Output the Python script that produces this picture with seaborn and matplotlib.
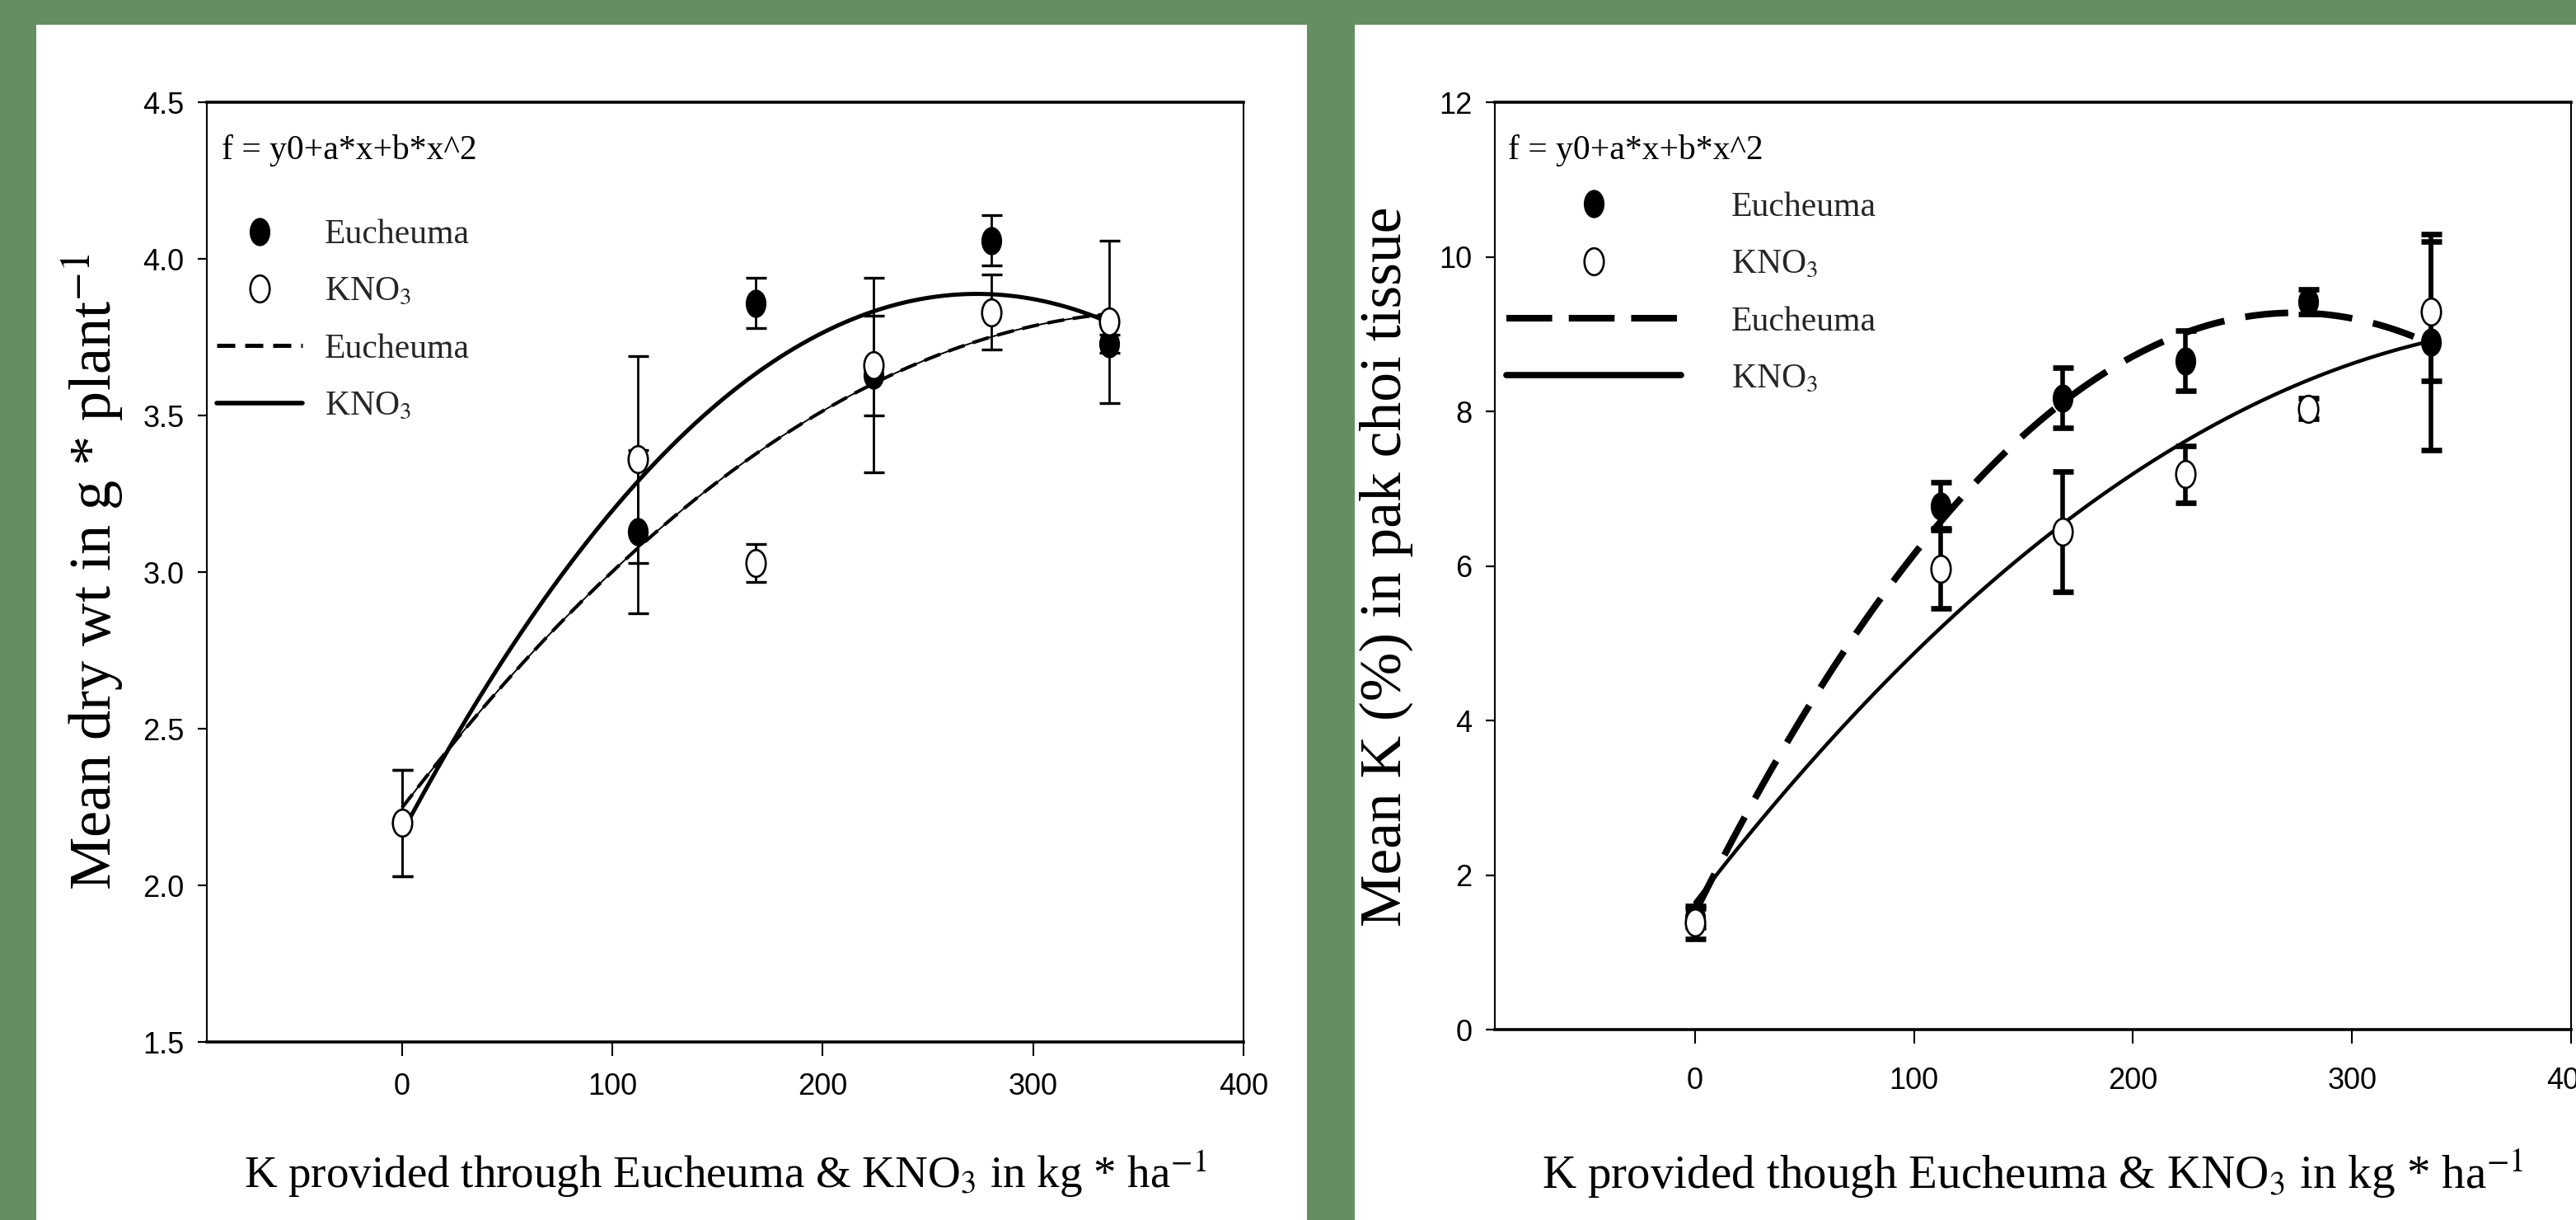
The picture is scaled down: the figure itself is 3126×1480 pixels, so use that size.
import numpy as np
import pandas as pd
import matplotlib
matplotlib.use("Agg")
import matplotlib.pyplot as plt
from matplotlib.path import Path
from matplotlib.lines import Line2D
from matplotlib.patches import Rectangle
import seaborn as sns

# ---------------- data ----------------
k_rate = [0, 112, 168, 224, 280, 336]          # K provided, kg/ha

# left panel: mean dry weight (g / plant)
dry_euch = [2.20, 3.13, 3.86, 3.63, 4.06, 3.73]
dry_euch_err = [0.17, 0.26, 0.08, 0.31, 0.08, 0.03]
dry_kno3 = [2.20, 3.36, 3.03, 3.66, 3.83, 3.80]
dry_kno3_err = [0.17, 0.33, 0.06, 0.16, 0.12, 0.26]

# right panel: mean K (%) in pak choi tissue
kp_euch = [1.45, 6.78, 8.18, 8.66, 9.42, 8.90]
kp_euch_err = [0.12, 0.31, 0.39, 0.39, 0.16, 1.40]
kp_kno3 = [1.39, 5.97, 6.45, 7.19, 8.04, 9.30]
kp_kno3_err = [0.21, 0.52, 0.78, 0.37, 0.13, 0.90]

x_ticks = [0, 100, 200, 300, 400]
left_yticks = [1.5, 2.0, 2.5, 3.0, 3.5, 4.0, 4.5]
right_yticks = [0, 2, 4, 6, 8, 10, 12]

fit_text = "f = y0+a*x+b*x^2"
legend_labels = ["Eucheuma", "KNO$_3$", "Eucheuma", "KNO$_3$"]
left_ylabel = "Mean dry wt in g * plant$^{-1}$"
right_ylabel = "Mean K (%) in pak choi tissue"
left_xlabel = "K provided through Eucheuma & KNO$_3$ in kg * ha$^{-1}$"
right_xlabel = "K provided though Eucheuma & KNO$_3$ in kg * ha$^{-1}$"

left_df = pd.DataFrame({"k": k_rate, "euch": dry_euch, "kno3": dry_kno3})
right_df = pd.DataFrame({"k": k_rate, "euch": kp_euch, "kno3": kp_kno3})

# ---------------- style ----------------
sns.set_theme(style="white")
plt.rcParams["font.family"] = ["Liberation Serif", "DejaVu Serif"]
plt.rcParams["mathtext.fontset"] = "stix"

TICK_FAMILY, TICK_SIZE = "Liberation Sans", 26

GREEN = "#658e62"
W, H = 3126, 1480
fig = plt.figure(figsize=(W / 100, H / 100), dpi=100, facecolor=GREEN)
fig.patches.extend([
    Rectangle((44 / W, 0), (1586 - 44) / W, (H - 30) / H, transform=fig.transFigure,
              facecolor="white", edgecolor="none", zorder=-5),
    Rectangle((1644 / W, 0), (W - 1644) / W, (H - 30) / H, transform=fig.transFigure,
              facecolor="white", edgecolor="none", zorder=-5),
])

axL = fig.add_axes([251 / W, (H - 1264) / H, (1509 - 251) / W, (1264 - 124.4) / H])
axR = fig.add_axes([1814 / W, (H - 1249.4) / H, (3120 - 1814) / W, (1249.4 - 124.4) / H])

circ = Path.unit_circle()
ell = Path(circ.vertices * np.array([0.72, 1.0]), circ.codes)
MS = 23.5  # marker height in points


def draw_points(ax, y_f, e_f, y_o, e_o, elw, capthick):
    ax.errorbar(k_rate, y_f, yerr=e_f, fmt="none", ecolor="black", elinewidth=elw,
                capsize=9, capthick=capthick, zorder=3)
    ax.errorbar(k_rate, y_o, yerr=e_o, fmt="none", ecolor="black", elinewidth=elw,
                capsize=9, capthick=capthick, zorder=3)
    sns.scatterplot(x=k_rate, y=y_f, marker=ell, s=MS ** 2, color="black",
                    edgecolor="black", linewidth=1.2, ax=ax, zorder=4)
    sns.scatterplot(x=k_rate, y=y_o, marker=ell, s=MS ** 2, color="white",
                    edgecolor="black", linewidth=1.9, ax=ax, zorder=5)


# ---------------- left panel ----------------
sns.regplot(data=left_df, x="k", y="euch", order=2, ci=None, scatter=False, truncate=True,
            color="black", ax=axL, line_kws=dict(lw=3.6, ls="-", zorder=2))
sns.regplot(data=left_df, x="k", y="kno3", order=2, ci=None, scatter=False, truncate=True,
            color="black", ax=axL, line_kws=dict(lw=1.4, ls="-", zorder=2))
sns.regplot(data=left_df, x="k", y="kno3", order=2, ci=None, scatter=False, truncate=True,
            color="black", ax=axL, line_kws=dict(lw=3.0, ls=(0, (5, 2.5)), zorder=2))
draw_points(axL, dry_euch, dry_euch_err, dry_kno3, dry_kno3_err, elw=2.0, capthick=2.4)
axL.set_xlim(-92.8, 400)
axL.set_ylim(1.5, 4.5)
axL.set_yticks(left_yticks, labels=[f"{v:.1f}" for v in left_yticks])

# ---------------- right panel ----------------
sns.regplot(data=right_df, x="k", y="euch", order=2, ci=None, scatter=False, truncate=True,
            color="black", ax=axR, line_kws=dict(lw=5.8, ls=(0, (6.5, 3.2)), zorder=2))
sns.regplot(data=right_df, x="k", y="kno3", order=2, ci=None, scatter=False, truncate=True,
            color="black", ax=axR, line_kws=dict(lw=3.2, ls="-", zorder=2))
draw_points(axR, kp_euch, kp_euch_err, kp_kno3, kp_kno3_err, elw=4.0, capthick=4.8)
axR.set_xlim(-91.4, 400)
axR.set_ylim(0, 12)
axR.set_yticks(right_yticks, labels=[str(v) for v in right_yticks])

# ---------------- axes cosmetics ----------------
for ax, xpad in ((axL, 15), (axR, 20)):
    ax.set_facecolor("white")
    ax.set_xticks(x_ticks, labels=[str(v) for v in x_ticks])
    ax.tick_params(axis="x", direction="out", length=12, width=1.5, pad=xpad,
                   labelsize=TICK_SIZE, bottom=True, top=False, colors="black")
    ax.tick_params(axis="y", direction="out", length=7.7, width=1.6, pad=12,
                   labelsize=TICK_SIZE, left=True, right=False, colors="black")
    plt.setp(ax.get_xticklabels() + ax.get_yticklabels(), family=TICK_FAMILY)
    for side in ("top", "bottom"):
        ax.spines[side].set_linewidth(2.6)
    for side in ("left", "right"):
        ax.spines[side].set_linewidth(1.5)
    for sp in ax.spines.values():
        sp.set_color("black")
        sp.set_zorder(6)

axL.set_xlabel(left_xlabel, fontsize=39.6, color="black")
axL.xaxis.set_label_coords(0.5, -0.113)
axL.set_ylabel(left_ylabel, fontsize=52, color="black")
axL.yaxis.set_label_coords(-0.078, 0.5)

axR.set_xlabel(right_xlabel, fontsize=41, color="black")
axR.xaxis.set_label_coords(0.5, -0.127)
axR.set_ylabel(right_ylabel, fontsize=51.5, color="black")
axR.yaxis.set_label_coords(-0.076, 0.5)

# ---------------- legends ----------------
axL.text(0.0143, 0.966, fit_text, transform=axL.transAxes, ha="left", va="top",
         fontsize=30, color="black")
hL = [Line2D([], [], ls="none", marker=ell, ms=MS, mfc="black", mec="black", mew=1.2),
      Line2D([], [], ls="none", marker=ell, ms=MS, mfc="white", mec="black", mew=1.9),
      Line2D([], [], color="black", lw=3.6, ls=(0, (4.4, 2.4))),
      Line2D([], [], color="black", lw=4.0, ls="-")]
axL.legend(hL, legend_labels, loc="upper left", bbox_to_anchor=(0.0095, 0.876),
           frameon=False, fontsize=30, handlelength=2.5, handletextpad=0.65,
           labelspacing=0.74, borderpad=0, borderaxespad=0)

axR.text(0.0123, 0.966, fit_text, transform=axR.transAxes, ha="left", va="top",
         fontsize=30, color="black")
hR = [Line2D([], [], ls="none", marker=ell, ms=MS, mfc="black", mec="black", mew=1.2),
      Line2D([], [], ls="none", marker=ell, ms=MS, mfc="white", mec="black", mew=1.9),
      Line2D([], [], color="black", lw=5.8, ls=(0, (6.9, 2.5))),
      Line2D([], [], color="black", lw=5.5, ls="-")]
axR.legend(hR, legend_labels, loc="upper left", bbox_to_anchor=(0.0107, 0.904),
           frameon=False, fontsize=30, handlelength=5.1, handletextpad=1.45,
           labelspacing=0.74, borderpad=0, borderaxespad=0)

fig.savefig("out.png", dpi=100, facecolor=GREEN)
